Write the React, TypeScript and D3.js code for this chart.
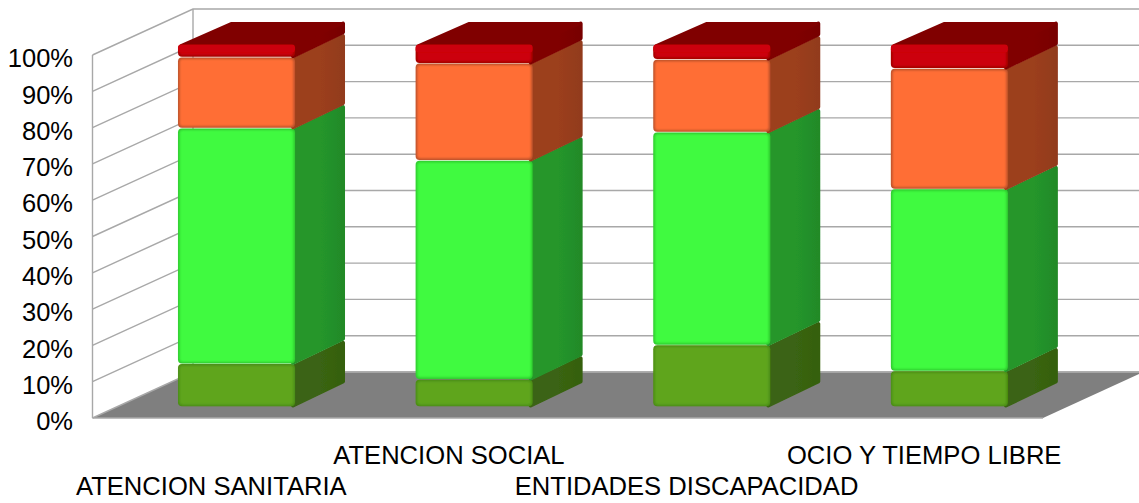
import React from "react";
import * as d3 from "d3";

const categories = ["ATENCION SANITARIA", "ATENCION SOCIAL", "ENTIDADES DISCAPACIDAD", "OCIO Y TIEMPO LIBRE"];
const seriesKeys = ["a", "b", "c", "d"];
const seriesA = [11.8, 7.5, 17.0, 9.8];
const seriesB = [65.1, 60.5, 58.8, 50.3];
const seriesC = [19.6, 26.8, 20.1, 33.3];
const seriesD = [3.5, 5.2, 4.1, 6.6];
const ticks = [0, 10, 20, 30, 40, 50, 60, 70, 80, 90, 100];

const frontColors = ["#5FA51F", "#3FFA3F", "#FF6E35", "#CC0008"];
const edgeColors = ["#4A8C14", "#2FC82F", "#B8502A", "#A00006"];
const sideColors = ["#3A6412", "#25962B", "#9C3F1F", "#800000"];
const sideDark = ["#35600F", "#228A28", "#923B1D", "#780000"];
const topColor = "#800000";
const floorColor = "#7F7F7F";
const gridColor = "#A8A8A8";

const W = 1139, H = 503;
const wallL = 92.5, wallR = 1043, wallT = 55, wallB = 418;
const depthX = 100.5, depthY = 46;
const barDX = 50, barDY = 23;

export default function App() {
  const data = categories.map((_, i) => ({ a: seriesA[i], b: seriesB[i], c: seriesC[i], d: seriesD[i] }));
  const stack = d3.stack<any>().keys(seriesKeys)(data);
  const yWall = d3.scaleLinear().domain([0, 100]).range([wallB, wallT]);
  const yBar = d3.scaleLinear().domain([0, 100]).range([406.5, 44.5]);
  const x = d3.scaleBand<string>().domain(categories).range([wallL, wallR]);
  const bw = 117;
  const barX = (c: string) => (x(c) as number) + x.bandwidth() / 2 + 25 - bw / 2 + 0.2;
  const line = d3.line();

  return (
    <svg width={W} height={H} style={{ position: "absolute", left: 0, top: 0 }} fontFamily="'Liberation Sans', Arial, sans-serif">
      <defs>
        <filter id="soft" x="-5%" y="-5%" width="110%" height="110%"><feGaussianBlur stdDeviation="0.6" /></filter>
        <filter id="edge" x="-5%" y="-5%" width="110%" height="110%"><feGaussianBlur stdDeviation="1" /></filter>
        <clipPath id="page"><rect x={0} y={0} width={W} height={H} /></clipPath>
      </defs>
      <g clipPath="url(#page)">
        <path d={line([[wallL, wallB], [wallL + depthX, wallB - depthY], [wallR + depthX, wallB - depthY], [wallR, wallB]]) + "Z"} fill={floorColor} />
        <path d={line([[wallL, wallB], [wallR, wallB]]) as string} stroke={gridColor} strokeWidth={1.5} fill="none" />
        <path d={line([[wallL + depthX, wallB - depthY], [wallR + depthX, wallB - depthY]]) as string} stroke={gridColor} strokeWidth={1.3} fill="none" />
        {ticks.map((t) => {
          const y = yWall(t);
          return (
            <path key={t} d={line([[wallL, y], [wallL + depthX, y - depthY], [W + 5, y - depthY]]) as string} fill="none" stroke={gridColor} strokeWidth={1.4} />
          );
        })}
        <path d={line([[wallL, wallT], [wallL, wallB]]) as string} stroke={gridColor} strokeWidth={1.4} fill="none" />
        <path d={line([[wallL + depthX, wallT - depthY], [wallL + depthX, wallB - depthY]]) as string} stroke={gridColor} strokeWidth={1.4} fill="none" />
        {categories.map((c, ci) => {
          const bx = barX(c);
          return (
            <g key={c}>
              {stack.map((s, si) => {
                const y0 = yBar(s[ci][0]);
                const y1 = yBar(s[ci][1]);
                const gid = `g${ci}-${si}`;
                return (
                  <g key={si}>
                    <linearGradient id={gid} x1="0" x2="1" y1="0" y2="0">
                      <stop offset="0" stopColor={sideColors[si]} />
                      <stop offset="0.55" stopColor={sideColors[si]} />
                      <stop offset="1" stopColor={sideDark[si]} />
                    </linearGradient>
                    <path
                      d={line([[bx + bw - 2, y1 + 3], [bx + bw + barDX - 2, y1 - barDY + 2], [bx + bw + barDX - 2, y0 - barDY - 2], [bx + bw - 2, y0 - 1]]) + "Z"}
                      fill={`url(#${gid})`} stroke={`url(#${gid})`} strokeWidth={4} strokeLinejoin="round" filter="url(#soft)"
                    />
                    <rect x={bx} y={y1 + 0.3} width={bw} height={y0 - y1 - 0.6} rx={4} fill={edgeColors[si]} filter="url(#soft)" />
                    <rect x={bx + 1.5} y={y1 + 1.8} width={bw - 3} height={y0 - y1 - 3.6} rx={3} fill={frontColors[si]} filter="url(#edge)" />
                  </g>
                );
              })}
              <path
                d={line([[bx + 3, yBar(100) + 1], [bx + barDX + 3, yBar(100) - barDY + 2], [bx + bw + barDX - 3, yBar(100) - barDY + 2], [bx + bw - 3, yBar(100) + 1]]) + "Z"}
                fill={topColor} stroke={topColor} strokeWidth={3} strokeLinejoin="round" filter="url(#soft)"
              />
              <rect x={bx} y={yBar(100)} width={bw} height={8} rx={3} fill={frontColors[3]} filter="url(#soft)" />
            </g>
          );
        })}
        {ticks.map((t) => (
          <text key={t} x={73} y={yWall(t) + 12.2} textAnchor="end" fontSize={25.5} fill="#000">{`${t}%`}</text>
        ))}
        {categories.map((c, i) => (
          <text key={c} x={(x(c) as number) + x.bandwidth() / 2} y={i % 2 === 0 ? 494.6 : 463.6} textAnchor="middle" fontSize={25.6} fill="#000">{c}</text>
        ))}
      </g>
    </svg>
  );
}
